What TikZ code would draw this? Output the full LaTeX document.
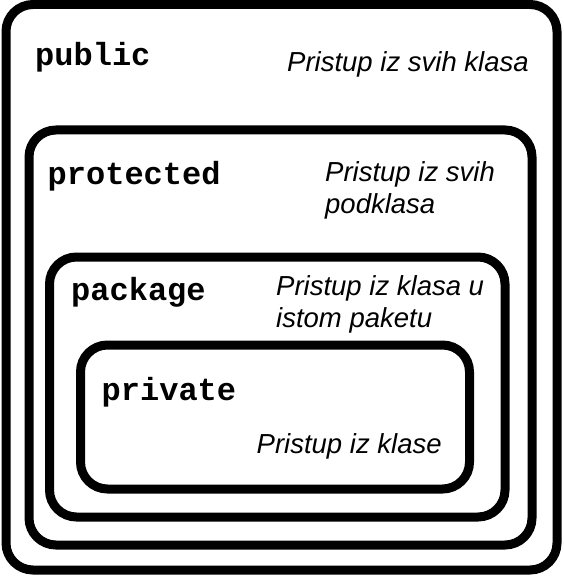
\documentclass[tikz,border=0pt]{standalone}
\usepackage{fontspec}
\setmainfont{Liberation Sans}
\setmonofont{Liberation Mono}
\usetikzlibrary{positioning}

\begin{document}
\begin{tikzpicture}[x=1pt, y=-1pt,
  box/.style={draw=black, line width=9pt, rounded corners=27pt},
  kw/.style={anchor=base west, inner sep=0pt, font=\fontsize{32}{36}\selectfont\ttfamily\bfseries},
  desc/.style={anchor=base west, inner sep=0pt, align=left, font=\fontsize{27.5}{31.5}\selectfont\itshape}]
  \useasboundingbox (0,0) rectangle (563,577);
  % nested access levels
  \draw[box] (6,4.5) rectangle (557,570);
  \draw[box] (29,130) rectangle (532,545);
  \draw[box] (49.5,257) rectangle (505,517);
  \draw[box] (80.5,345) rectangle (469.5,489);
  % labels (two-line ones sit on their last line)
  \node[kw] (public) at (35,66) {public};
  \node[desc] (publicTxt) at (287,72) {Pristup iz svih klasa};
  \node[kw] (protected) at (47.5,185) {protected};
  \node[desc] (protectedTxt) at (325,213) {Pristup iz svih\\podklasa};
  \node[kw] (package) at (71,300) {package};
  \node[desc] (packageTxt) at (276,327) {Pristup iz klasa u\\istom paketu};
  \node[kw] (private) at (101.5,400) {private};
  \node[desc] (privateTxt) at (256.5,453) {Pristup iz klase};
\end{tikzpicture}
\end{document}
